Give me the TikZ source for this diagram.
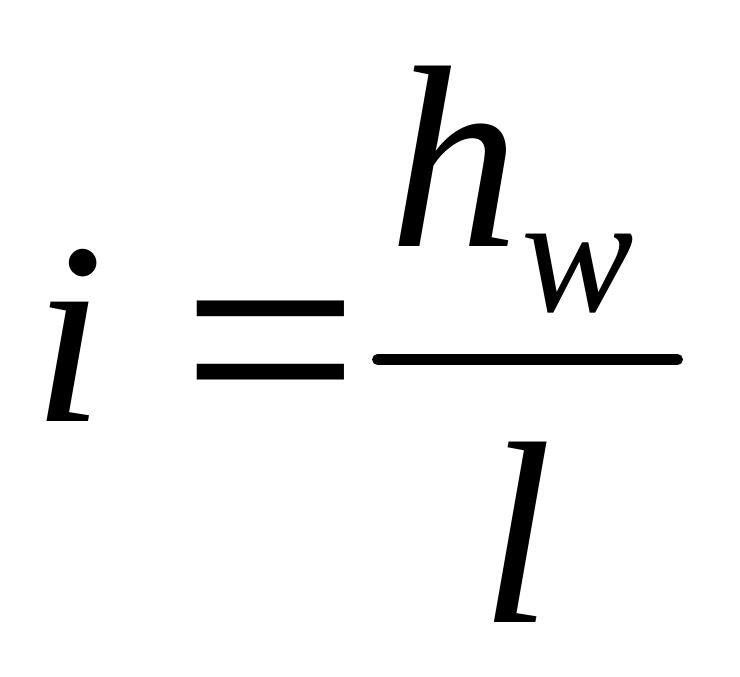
\documentclass[tikz,border=0pt]{standalone}
\usepackage{fontspec}
\setmainfont{Liberation Serif}
\usetikzlibrary{positioning,calc}

\tikzset{
    glyph/.style={inner sep=0pt,anchor=base,font=\fontsize{74}{80}\selectfont\itshape},
    subglyph/.style={inner sep=0pt,anchor=base,font=\fontsize{48}{52}\selectfont\itshape},
    sign/.style={inner sep=0pt,anchor=center,font=\fontsize{90}{96}\selectfont}
}

\begin{document}
\begin{tikzpicture}
    \useasboundingbox (0,0) rectangle (7.4,6.76);

    % Left side
    \node[glyph] (lhs) at (0.69,2.54) {i};
    \node[sign] (eq) at (2.705,3.03) {=};

    % Numerator and denominator
    \node[glyph] (num) at (4.55,4.29) {h};
    \node[subglyph] (sub) at (5.78,3.64) {w};
    \node[glyph] (den) at (5.17,0.54) {l};

    % Fraction bar
    \coordinate (barL) at (3.775,3.165);
    \coordinate (barR) at (6.775,3.165);
    \draw[line width=3.1pt,line cap=round] (barL) -- (barR);
\end{tikzpicture}
\end{document}
